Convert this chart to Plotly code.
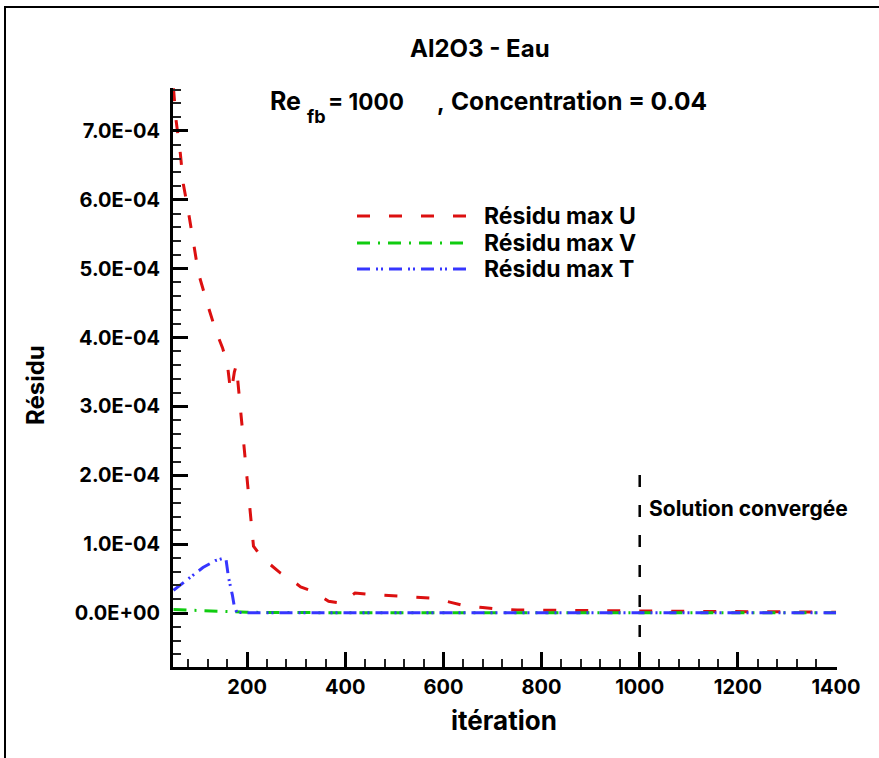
import plotly.graph_objects as go

# ---------------- data ----------------
iter_U = [50, 55, 64, 70, 81, 91, 101, 119, 136, 150, 160, 165, 168, 174, 178, 184, 191, 197,
          203, 208, 213, 231, 268, 283, 309, 336, 366, 392, 420, 450, 500, 550, 580, 615, 640,
          680, 705, 750, 800, 900, 1000, 1100, 1200, 1300, 1400]
res_U = [7.62e-4, 7.17e-4, 6.67e-4, 6.23e-4, 5.80e-4, 5.36e-4, 4.93e-4, 4.49e-4, 4.10e-4, 3.85e-4,
         3.60e-4, 3.30e-4, 3.22e-4, 3.50e-4, 3.60e-4, 3.15e-4, 2.61e-4, 2.14e-4, 1.71e-4, 1.28e-4,
         0.97e-4, 0.80e-4, 0.58e-4, 0.52e-4, 0.38e-4, 0.31e-4, 0.17e-4, 0.145e-4, 0.29e-4, 0.27e-4,
         0.25e-4, 0.235e-4, 0.215e-4, 0.155e-4, 0.11e-4, 0.08e-4, 0.06e-4, 0.045e-4, 0.04e-4,
         0.035e-4, 0.03e-4, 0.025e-4, 0.02e-4, 0.015e-4, 0.012e-4]

iter_V = [50, 100, 150, 200, 250, 400, 800, 1400]
res_V = [0.05e-4, 0.035e-4, 0.025e-4, 0.012e-4, 0.006e-4, 0.004e-4, 0.0035e-4, 0.003e-4]

iter_T = [50, 87, 110, 135, 154, 157, 162, 170, 174, 179, 200, 400, 800, 1400]
res_T = [0.33e-4, 0.53e-4, 0.66e-4, 0.76e-4, 0.80e-4, 0.78e-4, 0.52e-4, 0.26e-4, 0.09e-4,
         0.01e-4, 0.005e-4, 0.005e-4, 0.004e-4, 0.004e-4]

series_names = ["Résidu max U", "Résidu max V", "Résidu max T"]

conv_iter = [1000, 1000]
conv_res = [-0.784e-4, 2.1e-4]
conv_label = "Solution convergée"

y_tick_vals = [0, 1e-4, 2e-4, 3e-4, 4e-4, 5e-4, 6e-4, 7e-4]
y_tick_text = ["0.0E+00", "1.0E-04", "2.0E-04", "3.0E-04", "4.0E-04", "5.0E-04", "6.0E-04", "7.0E-04"]
x_tick_vals = [200, 400, 600, 800, 1000, 1200, 1400]
x_tick_text = ["200", "400", "600", "800", "1000", "1200", "1400"]

title_text = "Al2O3 - Eau"
sub_re_main = "Re"
sub_re_sub = "fb"
sub_re_val = "= 1000"
sub_comma = ","
sub_conc = "Concentration = 0.04"
x_title = "itération"
y_title = "Résidu"

# ---------------- styles ----------------
FONT = "Inter, 'Liberation Sans', Arial, sans-serif"
colors = ["#dc1010", "#10cc10", "#3636ff"]
dashes = ["13px,19px", "13px,8px,2px,8px", "13px,6px,2px,3px,2px,6px"]
LW = 3

def bold(size):
    return dict(family=FONT, size=size, color="black", weight="bold")

fig = go.Figure()
for xs, ys, c, d, n in zip([iter_U, iter_V, iter_T], [res_U, res_V, res_T], colors, dashes, series_names):
    fig.add_trace(go.Scatter(x=xs, y=ys, mode="lines", name=n, showlegend=False,
                             line=dict(color=c, width=LW, dash=d), hoverinfo="skip"))

fig.add_trace(go.Scatter(x=conv_iter, y=conv_res, mode="lines", showlegend=False,
                         line=dict(color="black", width=2.5, dash="12px,18px"), hoverinfo="skip"))

PLOT_L, PLOT_R, PLOT_T, PLOT_B = 173, 837, 88, 667
def px_x(p):
    return (p - PLOT_L) / (PLOT_R - PLOT_L)
def px_y(p):
    return (PLOT_B - p) / (PLOT_B - PLOT_T)

shapes = []
annotations = []
leg_y_px = [216, 243, 269]
for yp, c, d, n in zip(leg_y_px, colors, dashes, series_names):
    shapes.append(dict(type="line", xref="paper", yref="paper",
                       x0=px_x(357), x1=px_x(466), y0=px_y(yp), y1=px_y(yp),
                       line=dict(color=c, width=LW, dash=d)))
    annotations.append(dict(xref="paper", yref="paper", x=px_x(482), y=px_y(yp),
                            xanchor="left", yanchor="middle", showarrow=False, text=n,
                            font=bold(23)))

# outer frame
shapes.append(dict(type="rect", xref="paper", yref="paper",
                   x0=px_x(5), x1=px_x(900), y0=px_y(780), y1=px_y(7),
                   line=dict(color="black", width=2), fillcolor="rgba(0,0,0,0)", layer="below"))

def ann(x, y, text, size, xanchor="left", yanchor="middle", **kw):
    d = dict(xref="paper", yref="paper", x=px_x(x), y=px_y(y), xanchor=xanchor, yanchor=yanchor,
             showarrow=False, text=text, font=bold(size))
    d.update(kw)
    return d

annotations += [
    ann(480, 49, title_text, 24, xanchor="center"),
    ann(268, 101, sub_re_main, 25),
    ann(305, 116, sub_re_sub, 18),
    ann(326, 101, sub_re_val, 22.5),
    ann(435, 103, sub_comma, 23),
    ann(709, 101, sub_conc, 24.5, xanchor="right"),
    ann(35, 385, y_title, 24, xanchor="center", textangle=-90),
    ann(504, 720, x_title, 26, xanchor="center"),
    dict(xref="x", yref="y", x=1014, y=1.52e-4, xanchor="left", yanchor="middle",
         showarrow=False, text=conv_label, font=bold(21)),
]

axis_common = dict(showgrid=False, zeroline=False, showline=True, linecolor="black", linewidth=3,
                   ticks="inside", ticklen=15, tickwidth=2.5, tickcolor="black",
                   tickfont=bold(20))

fig.update_layout(
    width=879, height=758,
    margin=dict(l=PLOT_L, r=879 - PLOT_R, t=PLOT_T, b=758 - PLOT_B, pad=0),
    paper_bgcolor="white", plot_bgcolor="white",
    shapes=shapes, annotations=annotations, showlegend=False,
    xaxis=dict(range=[49, 1402], tickvals=x_tick_vals, ticktext=x_tick_text, ticklabelstandoff=0,
               minor=dict(ticks="inside", ticklen=8, tickwidth=1.5, tickcolor="#222",
                          dtick=40, tick0=0, showgrid=False), **axis_common),
    yaxis=dict(range=[-0.784e-4, 7.624e-4], tickvals=y_tick_vals, ticktext=y_tick_text,
               ticklabelstandoff=6,
               minor=dict(ticks="inside", ticklen=8, tickwidth=1.5, tickcolor="#222",
                          dtick=0.2e-4, tick0=0, showgrid=False), **axis_common),
)

fig.write_html("out.html", config={"displayModeBar": False},
               post_script="document.body.style.margin='0';document.body.style.padding='0';")
